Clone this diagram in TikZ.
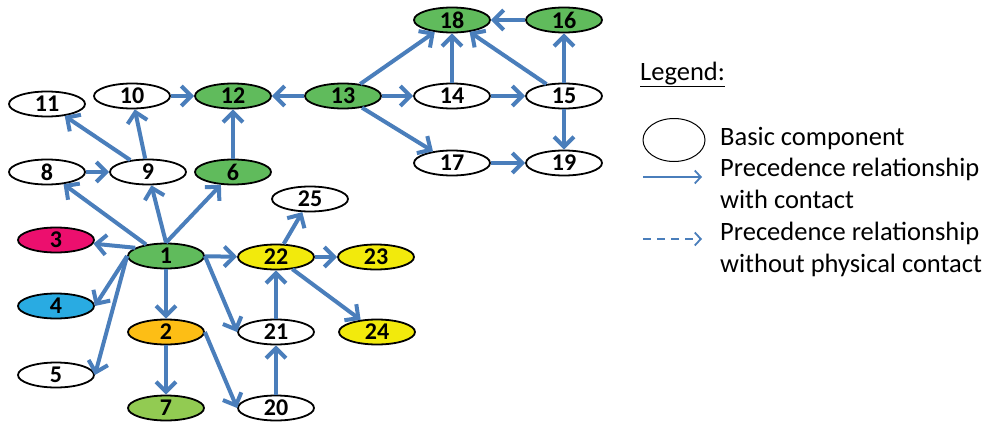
\documentclass[tikz,border=0pt]{standalone}
\usepackage{fontspec}
\setmainfont{Carlito}
\usepackage{tikz}
\usetikzlibrary{shapes.geometric,arrows.meta}
\definecolor{arrblue}{HTML}{4A7EBB}
\definecolor{cgreen}{HTML}{60BB5C}
\definecolor{clgreen}{HTML}{92CB52}
\definecolor{cred}{HTML}{EC0F6E}
\definecolor{cblue}{HTML}{29ABE2}
\definecolor{corange}{HTML}{FDBE15}
\definecolor{cyellow}{HTML}{F2EA0C}
\begin{document}
\begin{tikzpicture}[x=1pt, y=-1pt,
  comp/.style={ellipse, draw, line width=1.8pt, minimum width=76pt,
    minimum height=25pt, inner sep=0pt,
    font=\fontsize{24}{24}\selectfont\bfseries},
  prec/.style={draw=arrblue, line width=4pt,
    -{Straight Barb[length=10pt, width=20pt]}},
  keyarr/.style={draw=arrblue, line width=1.8pt,
    -{Straight Barb[length=6pt, width=13pt]}},
  lab/.style={font=\fontsize{26.5}{31.5}\selectfont, anchor=base west,
    align=left, inner sep=0pt}]
  \useasboundingbox (0,0) rectangle (987,423);
  \foreach \n/\x/\y/\c in {1/166/256/cgreen, 2/166/332/corange,
      3/56/240/cred, 4/56/306/cblue, 5/56/375/white, 6/233/172/cgreen,
      7/166/408/clgreen, 8/47/172/white, 9/148/172/white, 10/132/96/white,
      11/47/104/white, 12/233/96/cgreen, 13/343/96/cgreen, 14/452/96/white,
      15/564/96/white, 16/564/20/cgreen, 17/452/163/white, 18/452/20/cgreen,
      19/564/163/white, 20/276/408/white, 21/276/332/white,
      22/276/257/cyellow, 23/376/257/cyellow, 24/377/332/cyellow,
      25/310/199/white}
    \node[comp, fill=\c] (c\n) at (\x,\y) {\n};
  \foreach \a/\b in {c8/c9, c9/c11, c9/c10, c10/c12, c6/c12, c13/c12,
      c13/c14, c13/c18, c13/c17, c14/c18, c14/c15, c15/c18, c15/c16,
      c16/c18, c15/c19, c17/c19, c1/c2, c2/c7, c1/c22, c20/c21, c21/c22,
      c22/c25, c22/c23, c22/c24, c1.north/c9, c1.north/c6, c1.150/c8,
      c1.165/c3, c1.west/c4.east, c1.west/c5.east, c1.east/c21.west,
      c2.east/c20.west}
    \draw[prec] (\a) -- (\b);
  \node[lab] (legend) at (640,80) {\underline{Legend:}};
  \node[ellipse, draw, line width=1pt, minimum width=62pt,
    minimum height=43pt] (key) at (674,140) {};
  \node[lab] (basic) at (720,145) {Basic component};
  \node[lab] (contact) at (720,208) {Precedence relationship\\with contact};
  \node[lab] (nocontact) at (720,272)
    {Precedence relationship\\without physical contact};
  \coordinate (ka) at (643,177);
  \coordinate (kb) at (702,177);
  \coordinate (kc) at (643,239);
  \coordinate (kd) at (702,239);
  \draw[keyarr] (ka) -- (kb);
  \draw[keyarr, dash pattern=on 8pt off 6pt] (kc) -- (kd);
\end{tikzpicture}
\end{document}
